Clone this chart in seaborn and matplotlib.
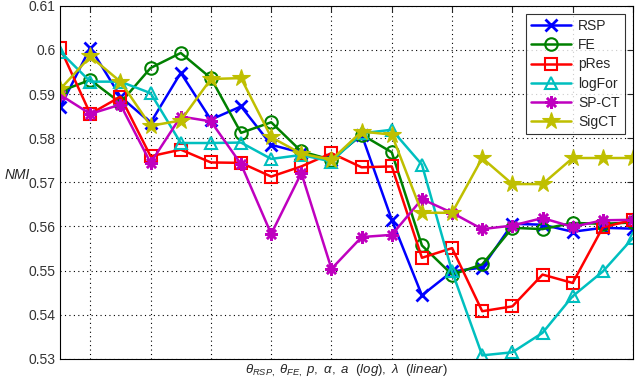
import numpy as np
import pandas as pd
import seaborn as sns
import matplotlib
matplotlib.use('Agg')
import matplotlib.pyplot as plt

# parameter index along the x axis (20 settings)
steps = list(range(1, 21))

rsp = [0.5870, 0.6005, 0.5894, 0.5835, 0.5948, 0.5842, 0.5872, 0.5785, 0.5767, 0.5751,
       0.5808, 0.5615, 0.5444, 0.5498, 0.5507, 0.5606, 0.5604, 0.5588, 0.5597, 0.5595]
fe = [0.5906, 0.5932, 0.5880, 0.5959, 0.5993, 0.5936, 0.5812, 0.5836, 0.5770, 0.5751,
      0.5808, 0.5768, 0.5557, 0.5491, 0.5514, 0.5597, 0.5594, 0.5608, 0.5606, 0.5609]
pres = [0.6004, 0.5855, 0.5894, 0.5759, 0.5774, 0.5745, 0.5744, 0.5713, 0.5736, 0.5766,
        0.5734, 0.5736, 0.5529, 0.5551, 0.5408, 0.5419, 0.5491, 0.5472, 0.5598, 0.5615]
logfor = [0.5996, 0.5928, 0.5928, 0.5902, 0.5789, 0.5789, 0.5790, 0.5753, 0.5762, 0.5747,
          0.5811, 0.5819, 0.5740, 0.5498, 0.5308, 0.5315, 0.5359, 0.5442, 0.5498, 0.5574]
spct = [0.5898, 0.5855, 0.5876, 0.5744, 0.5849, 0.5838, 0.5741, 0.5583, 0.5721, 0.5504,
        0.5576, 0.5581, 0.5662, 0.5631, 0.5594, 0.5602, 0.5619, 0.5599, 0.5614, 0.5615]
sigct = [0.5911, 0.5985, 0.5928, 0.5828, 0.5840, 0.5934, 0.5936, 0.5802, 0.5765, 0.5751,
         0.5815, 0.5808, 0.5631, 0.5631, 0.5755, 0.5696, 0.5696, 0.5755, 0.5755, 0.5755]

series = {'RSP': rsp, 'FE': fe, 'pRes': pres, 'logFor': logfor, 'SP-CT': spct, 'SigCT': sigct}

yticks = [0.53, 0.54, 0.55, 0.56, 0.57, 0.58, 0.59, 0.60, 0.61]
ytick_labels = ['0.53', '0.54', '0.55', '0.56', '0.57', '0.58', '0.59', '0.6', '0.61']

# matlab-ish colors / markers
styles = {
    'RSP': dict(color=(0, 0, 1), marker='x', mfc=(0, 0, 1), ms=8, mew=2),
    'FE': dict(color=(0, 0.5, 0), marker='o', mfc='none', ms=9, mew=1.5),
    'pRes': dict(color=(1, 0, 0), marker='s', mfc='none', ms=8, mew=1.5),
    'logFor': dict(color=(0, 0.75, 0.75), marker='^', mfc='none', ms=9, mew=1.5),
    'SP-CT': dict(color=(0.75, 0, 0.75), marker=(8, 2, 0), mfc=(0.75, 0, 0.75), ms=9, mew=1.8),
    'SigCT': dict(color=(0.75, 0.75, 0), marker='*', mfc=(0.75, 0.75, 0), ms=13, mew=0.8),
}

sns.set_style('white')
plt.rcParams['font.family'] = ['Liberation Sans', 'DejaVu Sans']
plt.rcParams['mathtext.fontset'] = 'custom'
plt.rcParams['mathtext.rm'] = 'Liberation Sans'
plt.rcParams['mathtext.it'] = 'Liberation Sans:italic'

fig = plt.figure(figsize=(6.4, 3.81), dpi=100)
ax = fig.add_axes([0.094, 0.058, 0.895, 0.927])

for name, vals in series.items():
    st = styles[name]
    sns.lineplot(x=steps, y=vals, ax=ax, label=name, color=st['color'], lw=1.8,
                 marker=st['marker'], markersize=st['ms'], markerfacecolor=st['mfc'],
                 markeredgecolor=st['color'], markeredgewidth=st['mew'])

ax.set_xlim(1, 20)
ax.set_ylim(0.53, 0.61)
ax.set_xticks(range(2, 21, 2))
ax.set_xticklabels([])
ax.set_yticks(yticks)
ax.set_yticklabels(ytick_labels, fontsize=10, color='#333333')
ax.tick_params(direction='in', top=True, right=True, length=4, width=0.8)
ax.grid(True, color='black', linestyle=(0, (1, 3)), linewidth=0.8)
for s in ax.spines.values():
    s.set_color('black')
    s.set_linewidth(0.8)

ax.set_ylabel('NMI', rotation=0, fontsize=10, style='italic', labelpad=8)
ax.yaxis.set_label_coords(-0.075, 0.5)
ax.set_xlabel(r'$\theta_{RSP,}\ \theta_{FE,}\ p,\ \alpha,\ a\ \ (log),\ \lambda\ \ (linear)$',
              fontsize=9.5)
ax.xaxis.set_label_coords(0.5, -0.012)
ax.xaxis.label.set_va('top')

leg = ax.legend(loc='upper right', fontsize=10, frameon=True, fancybox=False,
                edgecolor='black', borderpad=0.35, labelspacing=0.38, handlelength=2.9,
                handletextpad=0.5, borderaxespad=0.6)
leg.get_frame().set_linewidth(0.8)

fig.savefig('out.png', dpi=100)
